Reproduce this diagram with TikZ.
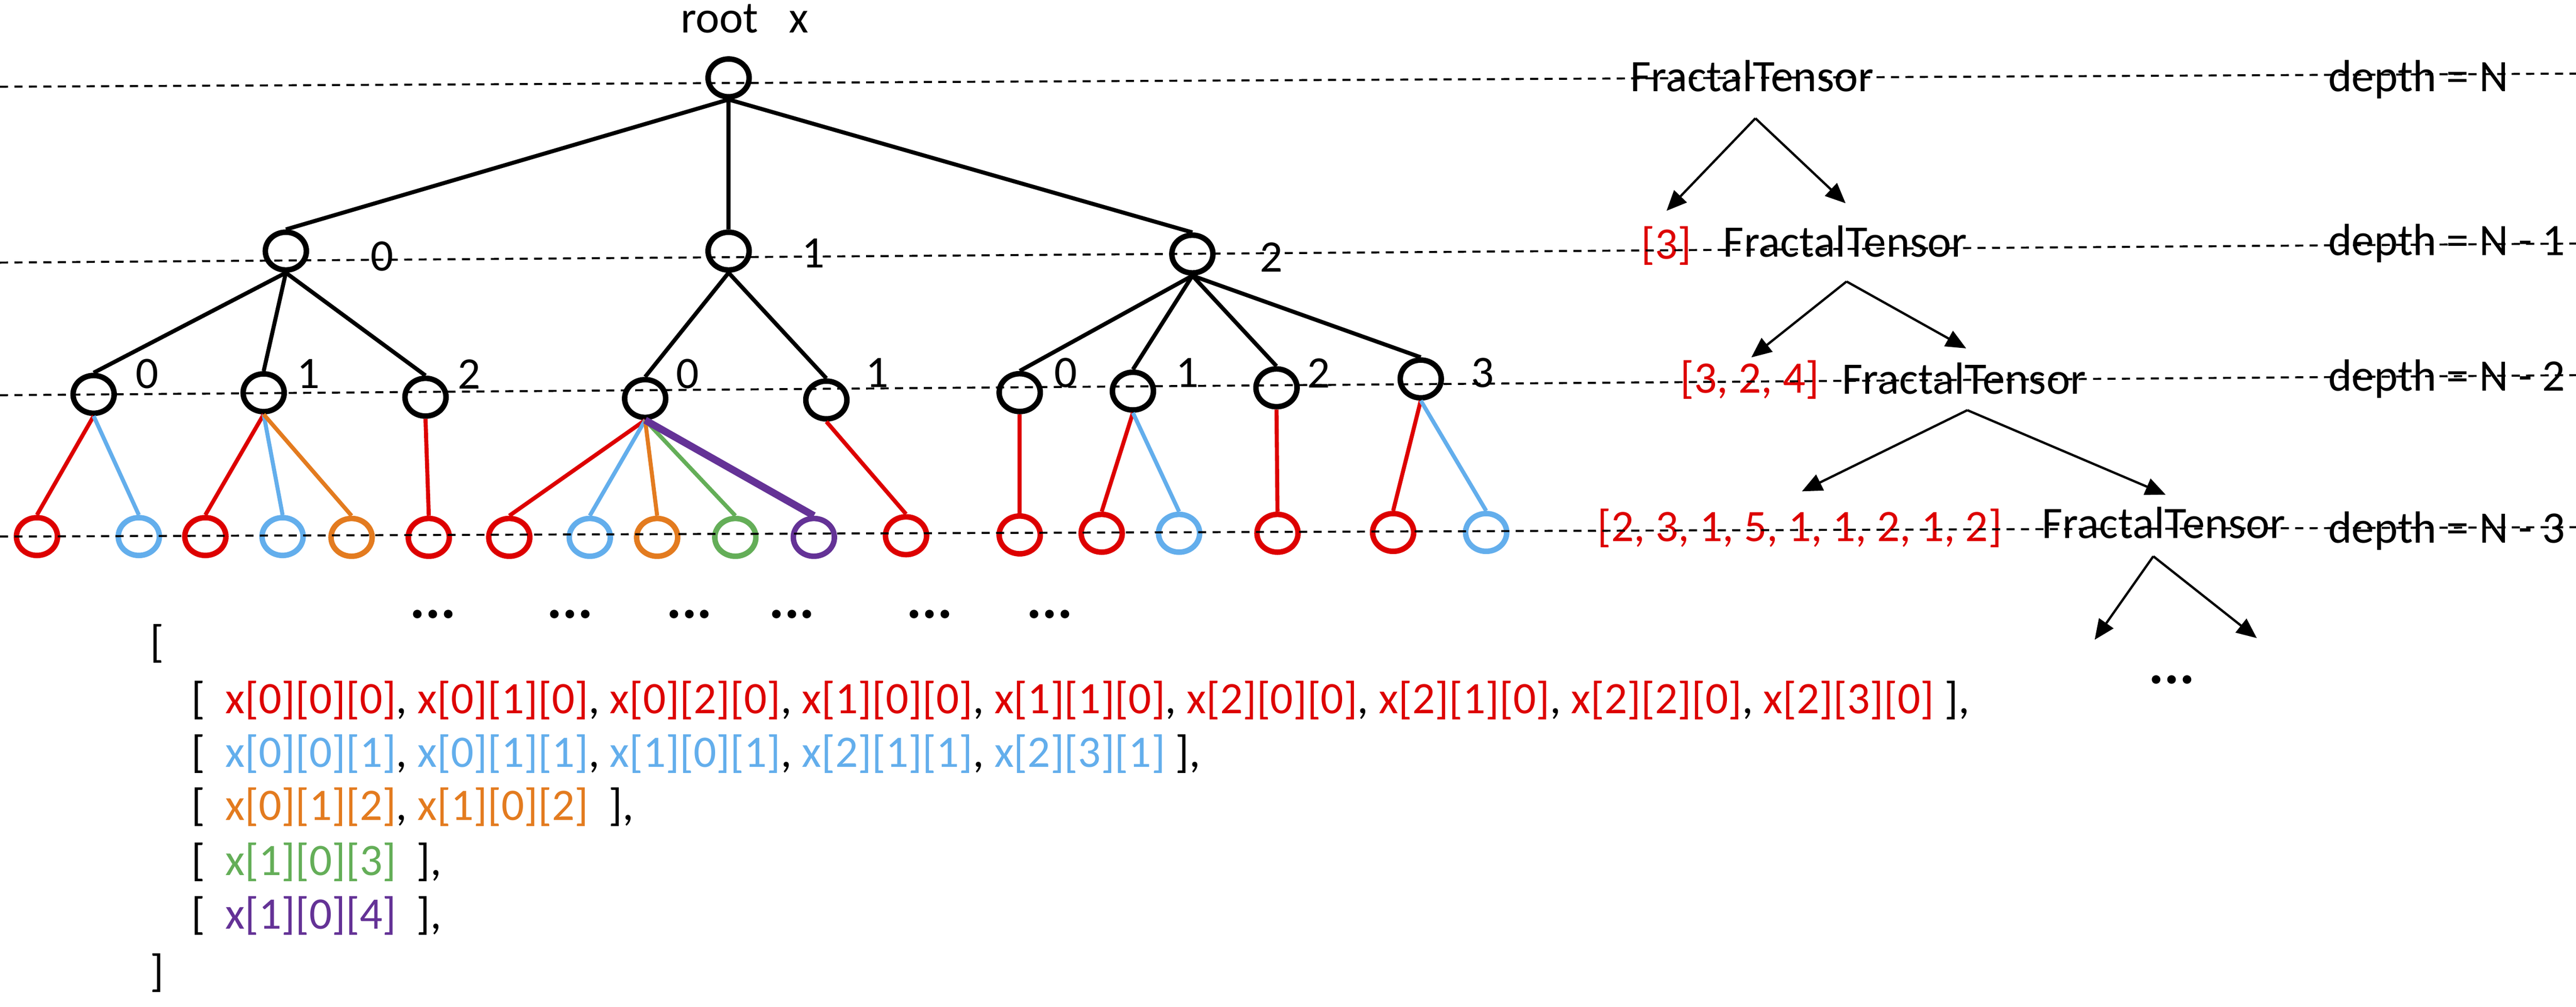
\documentclass[tikz,border=0pt]{standalone}
\usepackage{fontspec}
\setmainfont{Carlito}
\usetikzlibrary{shapes.geometric,arrows.meta}
\definecolor{fred}{RGB}{221,0,0}
\definecolor{fblue}{RGB}{99,174,236}
\definecolor{forange}{RGB}{227,123,31}
\definecolor{fgreen}{RGB}{100,174,88}
\definecolor{fpurple}{RGB}{100,50,150}
\begin{document}
\begin{tikzpicture}[x=0.2mm,y=-0.2mm,
    knot/.style={ellipse,draw,line width=1.9pt,minimum width=0.5cm,minimum height=0.46cm,inner sep=0pt},
    br/.style={line width=1.4pt},
    lvl/.style={dash pattern=on 2.8pt off 2.2pt,line width=0.7pt},
    lbl/.style={font=\fontsize{15.6}{18}\selectfont,inner sep=0pt},
    dots/.style={font=\fontsize{20}{20}\selectfont\bfseries,inner sep=0pt},
    down/.style={-{Triangle[length=7pt,width=6pt]},line width=0.8pt}]
  \useasboundingbox (0,0) rectangle (1568,612.56);
  % tree
  \node[knot] (r) at (443.5,47.4) {};
  \node[lbl,anchor=base west] (rt) at (414,20) {root~~~x};
  \node[knot] (a) at (174,152.8) {};
  \node[knot] (b) at (443.5,152.8) {};
  \node[knot] (c) at (725.8,154.6) {};
  \node[knot] (a0) at (57,240) {};
  \node[knot] (a1) at (160.5,239) {};
  \node[knot] (a2) at (259,241.7) {};
  \node[knot] (b0) at (392.7,242.5) {};
  \node[knot] (b1) at (503,243.4) {};
  \node[knot] (c0) at (620.7,238.9) {};
  \node[knot] (c1) at (689.6,238) {};
  \node[knot] (c2) at (777,236) {};
  \node[knot] (c3) at (864.8,230.6) {};
  \draw[br] (r.south)--(a.north);
  \draw[br] (r.south)--(b.north);
  \draw[br] (r.south)--(c.north);
  \draw[br] (a.south)--(a0.north);
  \draw[br] (a.south)--(a1.north);
  \draw[br] (a.south)--(a2.north);
  \draw[br] (b.south)--(b0.north);
  \draw[br] (b.south)--(b1.north);
  \draw[br] (c.south)--(c0.north);
  \draw[br] (c.south)--(c1.north);
  \draw[br] (c.south)--(c2.north);
  \draw[br] (c.south)--(c3.north);
  \node[lbl] (na) at (232.5,156) {0};
  \node[lbl] (nb) at (495,154) {1};
  \node[lbl] (nc) at (774,156.5) {2};
  \node[lbl] (na0) at (89.7,227.6) {0};
  \node[lbl] (na1) at (187.7,227.6) {1};
  \node[lbl] (na2) at (285.7,227.6) {2};
  \node[lbl] (nb0) at (418.6,227.6) {0};
  \node[lbl] (nb1) at (534,227) {1};
  \node[lbl] (nc0) at (648.8,227) {0};
  \node[lbl] (nc1) at (722.7,227) {1};
  \node[lbl] (nc2) at (802.7,227) {2};
  \node[lbl] (nc3) at (902.4,227) {3};
  % leaves
  \node[knot,draw=fred] (a0r) at (22.5,326.5) {};
  \node[knot,draw=fblue] (a0b) at (84.5,326.5) {};
  \node[knot,draw=fred] (a1r) at (125,326.5) {};
  \node[knot,draw=fblue] (a1b) at (172,326.5) {};
  \node[knot,draw=forange] (a1o) at (214,327) {};
  \node[knot,draw=fred] (a2r) at (261,327) {};
  \node[knot,draw=fred] (b0r) at (310,327) {};
  \node[knot,draw=fblue] (b0b) at (359,327) {};
  \node[knot,draw=forange] (b0o) at (400,327) {};
  \node[knot,draw=fgreen] (b0g) at (447.6,327) {};
  \node[knot,draw=fpurple] (b0p) at (495.4,327) {};
  \node[knot,draw=fred] (b1r) at (551.5,326) {};
  \node[knot,draw=fred] (c0r) at (620.7,325.5) {};
  \node[knot,draw=fred] (c1r) at (670.6,324.5) {};
  \node[knot,draw=fblue] (c1b) at (717.7,324.5) {};
  \node[knot,draw=fred] (c2r) at (777.6,324.5) {};
  \node[knot,draw=fred] (c3r) at (848,324) {};
  \node[knot,draw=fblue] (c3b) at (904.6,324) {};
  \draw[br,fred] (a0.south)--(a0r.north);
  \draw[br,fblue] (a0.south)--(a0b.north);
  \draw[br,fred] (a1.south)--(a1r.north);
  \draw[br,fblue] (a1.south)--(a1b.north);
  \draw[br,forange] (a1.south)--(a1o.north);
  \draw[br,fred] (a2.south)--(a2r.north);
  \draw[br,fred] (b0.south)--(b0r.north);
  \draw[br,fblue] (b0.south)--(b0b.north);
  \draw[br,forange] (b0.south)--(b0o.north);
  \draw[br,fgreen] (b0.south)--(b0g.north);
  \draw[br,fpurple,line width=2.5pt] (b0.south)--(b0p.north);
  \draw[br,fred] (b1.south)--(b1r.north);
  \draw[br,fred] (c0.south)--(c0r.north);
  \draw[br,fred] (c1.south)--(c1r.north);
  \draw[br,fblue] (c1.south)--(c1b.north);
  \draw[br,fred] (c2.south)--(c2r.north);
  \draw[br,fred] (c3.south)--(c3r.north);
  \draw[br,fblue] (c3.south)--(c3b.north);
  \node[dots] (d1) at (263.5,373.7) {...};
  \node[dots] (d2) at (347,373.7) {...};
  \node[dots] (d3) at (419.6,373.7) {...};
  \node[dots] (d4) at (482,373.7) {...};
  \node[dots] (d5) at (566,373.7) {...};
  \node[dots] (d6) at (639,373.7) {...};
  % list of leaves
  \node[lbl,anchor=west] (lo) at (91,391.5) {[};
  \node[lbl,anchor=west] (l1) at (116,426.2) {[~~\textcolor{fred}{x[0][0][0]}, \textcolor{fred}{x[0][1][0]}, \textcolor{fred}{x[0][2][0]}, \textcolor{fred}{x[1][0][0]}, \textcolor{fred}{x[1][1][0]}, \textcolor{fred}{x[2][0][0]}, \textcolor{fred}{x[2][1][0]}, \textcolor{fred}{x[2][2][0]}, \textcolor{fred}{x[2][3][0]} ],};
  \node[lbl,anchor=west] (l2) at (116,458.6) {[~~\textcolor{fblue}{x[0][0][1]}, \textcolor{fblue}{x[0][1][1]}, \textcolor{fblue}{x[1][0][1]}, \textcolor{fblue}{x[2][1][1]}, \textcolor{fblue}{x[2][3][1]} ],};
  \node[lbl,anchor=west] (l3) at (116,491) {[~~\textcolor{forange}{x[0][1][2]}, \textcolor{forange}{x[1][0][2]}~~],};
  \node[lbl,anchor=west] (l4) at (116,524.6) {[~~\textcolor{fgreen}{x[1][0][3]}~~],};
  \node[lbl,anchor=west] (l5) at (116,557.2) {[~~\textcolor{fpurple}{x[1][0][4]}~~],};
  \node[lbl,anchor=west] (lc) at (91,592) {]};
  % FractalTensor side
  \node[lbl,anchor=base west] (f0) at (992,55.7) {FractalTensor};
  \node[lbl,anchor=base west] (f1) at (1048.6,156.3) {FractalTensor};
  \node[lbl,anchor=base west] (f2) at (1121,239.8) {FractalTensor};
  \node[lbl,anchor=base west] (f3) at (1242.6,327.6) {FractalTensor};
  \node[lbl,anchor=base west,text=fred] (s1) at (998.7,157.5) {[3]};
  \node[lbl,anchor=base west,text=fred] (s2) at (1022.4,239.2) {[3, 2, 4]};
  \node[lbl,anchor=base west,text=fred] (s3) at (972,329.5) {[2, 3, 1, 5, 1, 1, 2, 1, 2]};
  \node[lbl,anchor=base west] (p0) at (1416.8,55.7) {depth = N};
  \node[lbl,anchor=base west] (p1) at (1416.8,155.5) {depth = N - 1};
  \node[lbl,anchor=base west] (p2) at (1416.8,237.9) {depth = N - 2};
  \node[lbl,anchor=base west] (p3) at (1416.8,330.3) {depth = N - 3};
  \coordinate (t0) at (1068.5,72);
  \coordinate (t0l) at (1014.4,128.3);
  \coordinate (t0r) at (1123.4,123.7);
  \coordinate (t1) at (1124,171.3);
  \coordinate (t1l) at (1066,217.5);
  \coordinate (t1r) at (1196.8,212);
  \coordinate (t2) at (1197.5,249.6);
  \coordinate (t2l) at (1096.8,299);
  \coordinate (t2r) at (1318.2,301);
  \coordinate (t3) at (1310.7,338.5);
  \coordinate (t3l) at (1275,389.3);
  \coordinate (t3r) at (1373.7,388.3);
  \draw[down] (t0)--(t0l);
  \draw[down] (t0)--(t0r);
  \draw[down] (t1)--(t1l);
  \draw[down] (t1)--(t1r);
  \draw[down] (t2)--(t2l);
  \draw[down] (t2)--(t2r);
  \draw[down] (t3)--(t3l);
  \draw[down] (t3)--(t3r);
  \node[dots] (d7) at (1322,413.5) {...};
  % depth levels
  \draw[lvl] (0,52.8)--(1568,44.8);
  \draw[lvl] (0,159.8)--(1568,148.2);
  \draw[lvl] (0,240.5)--(1568,228.3);
  \draw[lvl] (0,326.5)--(1568,320.8);
\end{tikzpicture}
\end{document}
